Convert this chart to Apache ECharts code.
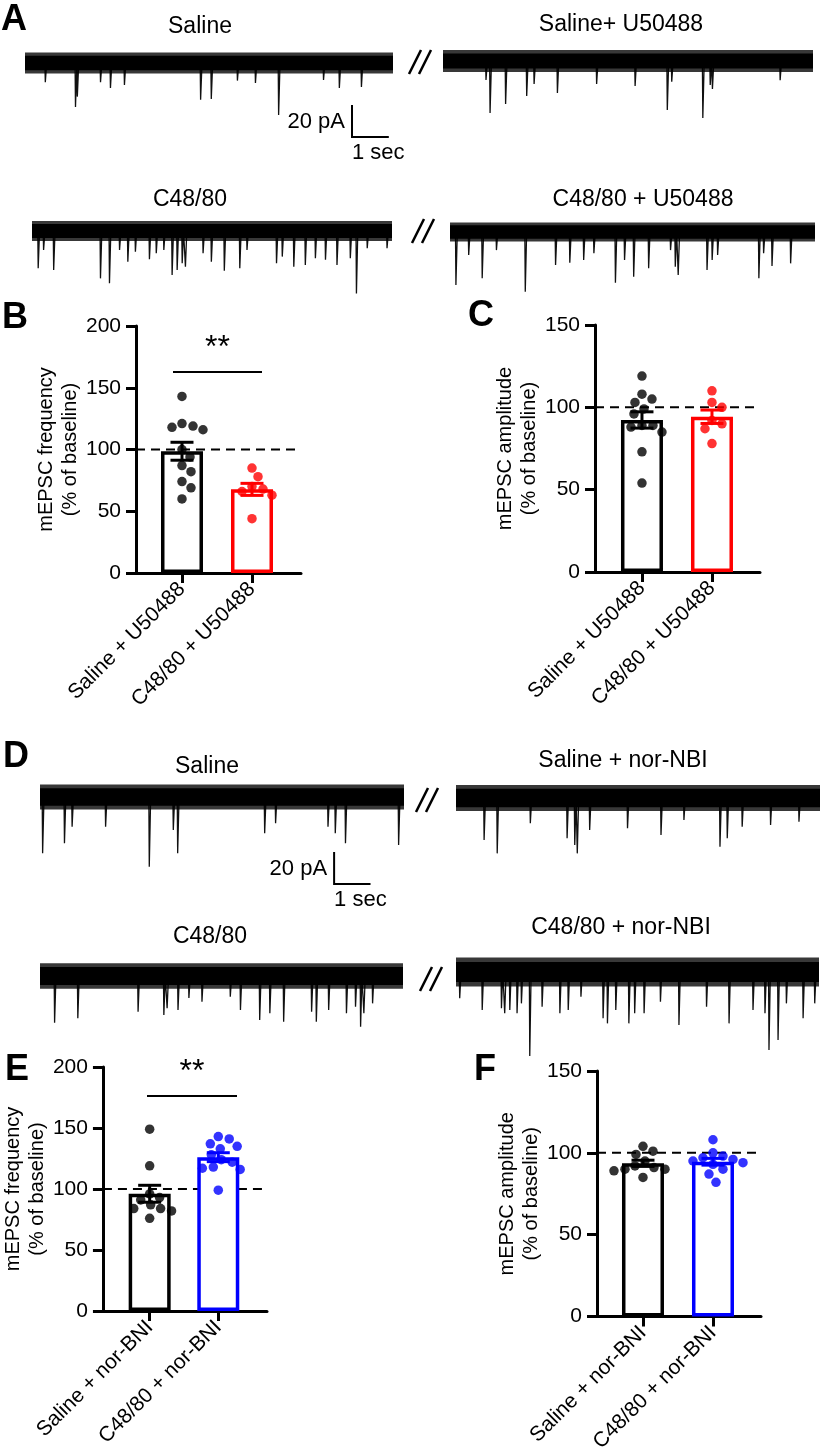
<!DOCTYPE html>
<html><head><meta charset="utf-8">
<script src="https://cdn.jsdelivr.net/npm/echarts@6/dist/echarts.min.js"></script>
<style>html,body{margin:0;padding:0;background:#fff}#c{width:826px;height:1455px}</style>
</head><body><div id="c"></div>
<script>
// ---------------- DATA ----------------
const traceTitles = ['Saline', 'Saline+ U50488', 'C48/80', 'C48/80 + U50488',
                     'Saline', 'Saline + nor-NBI', 'C48/80', 'C48/80 + nor-NBI'];
// mEPSC events: [time (s), amplitude (pA)]
const eventsA1 = [[0.54,12],[1.36,27.5],[1.41,21],[2.04,12],[2.31,15.6],[2.69,13.8],[4.76,23],[5.05,22.5],[5.76,11],[6.25,12.5],[6.88,32.5],[8.10,10.6],[8.53,15.6],[9.13,15]];
const eventsA2 = [[1.15,11.9],[1.26,32.5],[1.68,26.9],[2.25,21.9],[2.45,14.4],[3.08,20],[4.14,14.4],[5.18,15.6],[6.05,30.6],[6.17,13],[7.01,35.6],[7.21,15],[7.27,17.5],[9.1,12]];
const eventsA3 = [[0.16,23.3],[0.31,11.9],[0.59,24.4],[1.89,29.6],[2.14,32.7],[2.42,11.9],[2.65,19.2],[2.86,12.9],[3.25,17.7],[3.44,13.9],[3.65,11.9],[3.88,27.5],[4.02,24.4],[4.16,20.2],[4.25,22.3],[4.74,13.9],[4.97,19.2],[5.33,24.8],[5.76,23.3],[5.96,11.9],[6.78,20.2],[6.94,16],[7.26,22.3],[7.58,21.3],[7.86,17],[8.14,18],[8.46,21.3],[8.83,17],[9.0,39],[9.3,10.8],[9.85,10.8]];
const eventsA4 = [[0.15,33.1],[0.5,14.4],[0.87,28.9],[1.26,11.3],[2.05,37.3],[2.88,20.6],[3.27,19.2],[3.65,17.5],[3.93,13.3],[4.52,31.7],[4.77,17.5],[5.02,27.9],[5.43,22.7],[6.03,11.3],[6.16,21.7],[6.24,26.9],[7.03,23.8],[7.17,17.5],[7.32,14.4],[8.45,28.9],[8.58,13.3],[8.81,21.3],[9.32,19.6]];
const eventsD1 = [[0.06,35.2],[0.66,28.9],[0.87,18.6],[1.79,18.6],[2.99,43.6],[3.65,20.6],[3.77,35.2],[6.16,22.7],[6.46,16.4],[7.9,18.6],[8.1,22.7],[8.38,28.9],[9.84,30]];
const eventsD2 = [[0.76,26.3],[1.12,34.6],[2.03,15.8],[3.04,25.2],[3.25,29.4],[3.32,34.6],[3.66,20],[4.7,18.9],[5.62,23.1],[6.25,13.8],[7.24,30.4],[7.44,25.2],[7.85,17.9],[8.63,16.9],[9.41,14.8]];
const eventsD3 = [[0.39,29.2],[1.03,26.4],[2.69,22.3],[3.4,24.4],[3.49,20.2],[3.79,21.3],[4.09,13.8],[4.45,16.1],[5.23,12.9],[5.51,21.3],[6.04,27.5],[6.32,23.3],[6.7,28.6],[7.47,22.3],[7.6,28.6],[7.94,21.3],[8.43,23.3],[8.68,19.2],[8.82,31.7],[8.91,23.3],[9.15,17.1]];
const eventsD4 = [[0.09,16.4],[0.71,23.8],[1.24,22.7],[1.33,25.8],[1.47,23.8],[1.67,25.8],[1.79,19.6],[2.02,52.5],[2.36,21.7],[2.85,25.8],[3.08,23.8],[3.43,15.4],[4.04,28.9],[4.16,32.1],[4.39,23.8],[4.75,32.1],[4.91,25.8],[5.17,25.8],[5.62,18.6],[6.13,33.1],[6.89,21.7],[7.51,32.1],[8.17,23.8],[8.5,25.8],[8.61,48.8],[8.86,42.5],[9.09,19.6],[9.55,28.9],[9.87,19.6]];
const scaleBar = {pA: 20, sec: 1};

const catsBC = ['Saline + U50488', 'C48/80 + U50488'];
const catsEF = ['Saline + nor-BNI', 'C48/80 + nor-BNI'];
const freqB_sal = [143,121,119,118,116,100,94,87,82,74,69,60];
const freqB_c48 = [85,78,70,68,66,63,44];
const ampC_sal  = [119,108,105,103,99,96,89,89,88,85,73,54];
const ampC_c48  = [110,103,100,92,90,87,78];
const freqE_sal = [149,119,96,93,91,87,84,84,82,76];
const freqE_c48 = [143,141,137,135,133,128,124,122,118,117,116,99];
const ampF_sal  = [104,101,99,95,92,91,90,90,89,85];
const ampF_c48  = [108,100,98,97,96,95,94,93,90,87,82];
const yTicksFreq = [0,50,100,150,200];
const yTicksAmp  = [0,50,100,150];
const baselinePct = 100;

// ---------------- LAYOUT ----------------
const FONT = "'Liberation Sans', Arial, Helvetica, sans-serif";
const PXPA = 1.6; // px per pA
const traces = [
  {ev:eventsA1, left:25,  width:368, cy:63,  noise:6.5, tx:200, ty:27,  bar:{t:8.886, top:-26.25}},
  {ev:eventsA2, left:443, width:370, cy:61,  noise:6.8, tx:621, ty:25},
  {ev:eventsA3, left:32,  width:360, cy:231, noise:6.2, tx:190, ty:200},
  {ev:eventsA4, left:450, width:365, cy:232, noise:6.0, tx:643, ty:200},
  {ev:eventsD1, left:40,  width:364, cy:797, noise:7.8, tx:207, ty:767, bar:{t:8.08, top:-34.4}},
  {ev:eventsD2, left:456, width:364, cy:798, noise:8.2, tx:623, ty:761},
  {ev:eventsD3, left:40,  width:363, cy:976, noise:8.0, tx:210, ty:937},
  {ev:eventsD4, left:456, width:363, cy:972, noise:9.0, tx:621, ty:928}
];

const grids = [], xAxes = [], yAxes = [], series = [], graphics = [];

traces.forEach((tr, i) => {
  grids.push({left: tr.left, top: tr.cy - 15 * PXPA, width: tr.width, height: 75 * PXPA});
  xAxes.push({type: 'value', gridIndex: i, min: 0, max: 10, show: false});
  yAxes.push({type: 'value', gridIndex: i, min: -60, max: 15, show: false});
  const pts = [[0, 0]];
  tr.ev.forEach(([t, a]) => { pts.push([t, 0], [t + 0.012, -a], [t + 0.05, 0]); });
  pts.push([10, 0]);
  series.push({type: 'line', xAxisIndex: i, yAxisIndex: i, data: pts, symbol: 'none',
    lineStyle: {color: '#111', width: 1.3}, animation: false, silent: true, z: 2});
  series.push({type: 'custom', xAxisIndex: i, yAxisIndex: i, data: [[0, 10, tr.noise]], silent: true, z: 3,
    renderItem: (p, api) => {
      const n = api.value(2);
      const p0 = api.coord([api.value(0), n]), p1 = api.coord([api.value(1), -n]);
      const q0 = api.coord([api.value(0), n * 0.7]), q1 = api.coord([api.value(1), -n * 0.7]);
      return {type: 'group', children: [
        {type: 'rect', shape: {x: p0[0], y: p0[1], width: p1[0] - p0[0], height: p1[1] - p0[1]}, style: {fill: 'rgba(0,0,0,0.78)'}},
        {type: 'rect', shape: {x: q0[0], y: q0[1], width: q1[0] - q0[0], height: q1[1] - q0[1]}, style: {fill: '#000'}}
      ]};
    }});
  if (tr.bar) {
    series.push({type: 'custom', xAxisIndex: i, yAxisIndex: i, silent: true, z: 3,
      data: [[tr.bar.t, tr.bar.top, scaleBar.pA, scaleBar.sec]],
      renderItem: (p, api) => {
        const t = api.value(0), top = api.value(1), pa = api.value(2), s = api.value(3);
        const a = api.coord([t, top]), b = api.coord([t, top - pa]), c = api.coord([t + s, top - pa]);
        return {type: 'group', children: [
          {type: 'polyline', shape: {points: [a, b, c]}, style: {stroke: '#000', lineWidth: 2, fill: null}},
          {type: 'text', style: {text: pa + ' pA', x: a[0] - 7, y: (a[1] + b[1]) / 2 + 1, align: 'right', verticalAlign: 'middle', font: '22px ' + FONT, fill: '#000'}},
          {type: 'text', style: {text: s + ' sec', x: b[0], y: b[1] + 16, align: 'left', verticalAlign: 'middle', font: '22px ' + FONT, fill: '#000'}}
        ]};
      }});
  }
  graphics.push({type: 'text', style: {text: traceTitles[i], x: tr.tx, y: tr.ty, align: 'center', verticalAlign: 'middle', font: '23px ' + FONT, fill: '#000'}});
});

// break marks "//"
[[420, 62], [423, 231], [427, 800], [431, 979]].forEach(([cx, cy]) => {
  [-5, 5].forEach(o => graphics.push({type: 'line', shape: {x1: cx + o - 6, y1: cy + 12, x2: cx + o + 6, y2: cy - 12}, style: {stroke: '#000', lineWidth: 2.5}}));
});

// panel letters
[['A', 14, 20], ['B', 15, 318], ['C', 481, 316], ['D', 16, 757], ['E', 17, 1070], ['F', 485, 1070]].forEach(([t, x, y]) => {
  graphics.push({type: 'text', style: {text: t, x: x, y: y, align: 'center', verticalAlign: 'middle', font: 'bold 36px ' + FONT, fill: '#000'}});
});

// ---------------- BAR PANELS ----------------
const barPanels = [
  {cats: catsBC, groups: [freqB_sal, freqB_c48], colors: ['#000', '#ff0000'], ticks: yTicksFreq, name: 'mEPSC frequency\n(% of baseline)',
   left: 136, top: 326, width: 165, height: 247, xmin: -0.657, xmax: 1.7, sig: {x1: 173, x2: 262, y: 372}},
  {cats: catsBC, groups: [ampC_sal, ampC_c48], colors: ['#000', '#ff0000'], ticks: yTicksAmp, name: 'mEPSC amplitude\n(% of baseline)',
   left: 595, top: 325, width: 165, height: 247, xmin: -0.671, xmax: 1.686},
  {cats: catsEF, groups: [freqE_sal, freqE_c48], colors: ['#000', '#0000ff'], ticks: yTicksFreq, name: 'mEPSC frequency\n(% of baseline)',
   left: 102, top: 1067, width: 165, height: 244, xmin: -0.681, xmax: 1.71, sig: {x1: 147, x2: 237, y: 1096}},
  {cats: catsEF, groups: [ampF_sal, ampF_c48], colors: ['#000', '#0000ff'], ticks: yTicksAmp, name: 'mEPSC amplitude\n(% of baseline)',
   left: 597, top: 1071, width: 164, height: 247, xmin: -0.657, xmax: 1.686}
];

function mean(a) { return a.reduce((s, v) => s + v, 0) / a.length; }
function sem(a) { const m = mean(a); return Math.sqrt(a.reduce((s, v) => s + (v - m) * (v - m), 0) / (a.length - 1)) / Math.sqrt(a.length); }
function swarm(vals, pxY, pxX, d) {
  const order = vals.map((v, i) => i).sort((a, b) => vals[b] - vals[a]);
  const placed = [], out = new Array(vals.length);
  order.forEach(i => {
    const y = vals[i] * pxY;
    let chosen = 0;
    for (let k = 0; k < 400; k++) {
      const c = k === 0 ? 0 : (k % 2 ? 1 : -1) * Math.ceil(k / 2);
      if (placed.every(p => (c - p[0]) ** 2 + (y - p[1]) ** 2 >= d * d)) { chosen = c; break; }
    }
    placed.push([chosen, y]);
    out[i] = chosen / pxX;
  });
  return out;
}

barPanels.forEach((bp, j) => {
  const gi = grids.length;
  const ymax = bp.ticks[bp.ticks.length - 1];
  grids.push({left: bp.left, top: bp.top, width: bp.width, height: bp.height});
  xAxes.push({type: 'value', gridIndex: gi, min: bp.xmin, max: bp.xmax,
    axisLine: {show: true, onZero: false, lineStyle: {color: '#000', width: 3}},
    axisTick: {show: true, customValues: [0, 1], length: 10, lineStyle: {color: '#000', width: 3}},
    axisLabel: {customValues: [0, 1], formatter: v => bp.cats[Math.round(v)], rotate: 45, margin: 13,
      fontSize: 21, fontFamily: FONT, color: '#000'},
    splitLine: {show: false}});
  yAxes.push({type: 'value', gridIndex: gi, min: bp.ticks[0], max: ymax, interval: bp.ticks[1] - bp.ticks[0],
    axisLine: {show: true, onZero: false, lineStyle: {color: '#000', width: 3}},
    axisTick: {show: true, length: 10, lineStyle: {color: '#000', width: 3}},
    axisLabel: {fontSize: 21, fontFamily: FONT, color: '#000', margin: 15},
    splitLine: {show: false},
    name: bp.name, nameLocation: 'middle', nameGap: 52,
    nameTextStyle: {fontSize: 20, fontFamily: FONT, color: '#000', lineHeight: 24, align: 'center'}});
  // baseline dashed line
  series.push({type: 'line', xAxisIndex: gi, yAxisIndex: gi, data: [[bp.xmin, baselinePct], [bp.xmax, baselinePct]],
    symbol: 'none', lineStyle: {color: '#000', width: 2, type: [9, 6]}, z: 1, animation: false, silent: true});
  const means = bp.groups.map(mean), sems = bp.groups.map(sem);
  series.push({type: 'bar', xAxisIndex: gi, yAxisIndex: gi, barWidth: 42, z: 2, animation: false, silent: true,
    data: means.map((m, k) => ({value: [k, m], itemStyle: {color: '#fff', borderColor: bp.colors[k], borderWidth: 3.5}}))});
  const pxY = bp.height / ymax, pxX = bp.width / (bp.xmax - bp.xmin);
  bp.groups.forEach((g, k) => {
    const off = swarm(g, pxY, pxX, 10.5);
    series.push({type: 'scatter', xAxisIndex: gi, yAxisIndex: gi, symbolSize: 9.5, z: 3, animation: false, silent: true,
      itemStyle: {color: bp.colors[k]}, data: g.map((v, n) => [k + off[n], v])});
  });
  series.push({type: 'custom', xAxisIndex: gi, yAxisIndex: gi, z: 4, silent: true,
    data: means.map((m, k) => [k, m, sems[k]]),
    renderItem: (p, api) => {
      const x = api.value(0), m = api.value(1), s = api.value(2);
      const hi = api.coord([x, m + s]), lo = api.coord([x, m - s]);
      const col = bp.colors[p.dataIndex], w = 11.5, st = {stroke: col, lineWidth: 3};
      return {type: 'group', children: [
        {type: 'line', shape: {x1: hi[0], y1: hi[1], x2: lo[0], y2: lo[1]}, style: st},
        {type: 'line', shape: {x1: hi[0] - w, y1: hi[1], x2: hi[0] + w, y2: hi[1]}, style: st},
        {type: 'line', shape: {x1: lo[0] - w, y1: lo[1], x2: lo[0] + w, y2: lo[1]}, style: st}
      ]};
    }});
  if (bp.sig) {
    graphics.push({type: 'line', shape: {x1: bp.sig.x1, y1: bp.sig.y, x2: bp.sig.x2, y2: bp.sig.y}, style: {stroke: '#000', lineWidth: 2}});
    graphics.push({type: 'text', style: {text: '**', x: (bp.sig.x1 + bp.sig.x2) / 2, y: bp.sig.y - 8, align: 'center', verticalAlign: 'bottom', font: '32px ' + FONT, fill: '#000'}});
  }
});

const chart = echarts.init(document.getElementById('c'), null, {renderer: 'canvas'});
chart.setOption({
  backgroundColor: '#fff',
  animation: false,
  grid: grids, xAxis: xAxes, yAxis: yAxes, series: series,
  graphic: {elements: graphics}
});
</script></body></html>
